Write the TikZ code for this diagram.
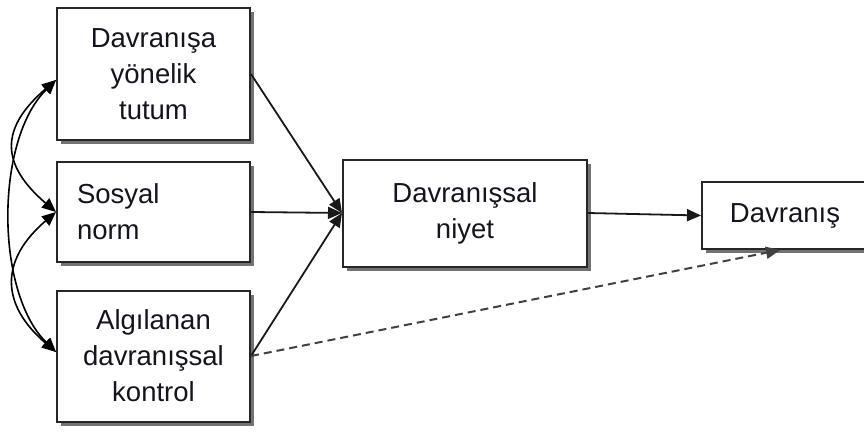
\documentclass[tikz,border=0pt]{standalone}
\usepackage{fontspec}
\setmainfont{Liberation Sans}
\usetikzlibrary{arrows.meta,shadows,calc}
\definecolor{boxline}{HTML}{262626}
\definecolor{txt}{HTML}{14141E}
\tikzset{
  box/.style={draw=boxline, line width=2pt, fill=white, rectangle, inner sep=0pt,
    drop shadow={shadow xshift=4pt, shadow yshift=-4pt, fill=black!55, opacity=1},
    font=\fontsize{27.5}{36}\selectfont, text=txt, align=center},
  conn/.style={draw=black!90, line width=1.8pt, -{Triangle[length=14pt,width=12pt]}},
  curv/.style={draw=black, line width=1.6pt, {Triangle[length=14pt,width=12pt]}-{Triangle[length=14pt,width=12pt]}},
  dashconn/.style={draw=black!75, line width=2pt, dash pattern=on 8pt off 5pt, -{Triangle[length=14pt,width=12pt]}}
}
\begin{document}
\begin{tikzpicture}[x=1pt,y=-1pt]
\useasboundingbox (0,0) rectangle (864,433);
\node[box, minimum width=193pt, minimum height=132pt] (b1) at (153.5,74) {Davranışa\\yönelik\\tutum};
\node[box, minimum width=193pt, minimum height=100pt, text width=153pt, align=left] (b2) at (153.5,212) {Sosyal\\norm};
\node[box, minimum width=193pt, minimum height=131pt] (b3) at (153.5,356) {Algılanan\\davranışsal\\kontrol};
\node[box, minimum width=244pt, minimum height=107pt] (b4) at (465,213) {Davranışsal\\niyet};
\node[box, minimum width=180pt, minimum height=67pt, text width=166pt, align=center, xshift=7pt] (b5) at (785,215.5) {\hspace*{-14pt}Davranış};
\coordinate (conv) at ($(b4.west)+(0,0)$);
\coordinate (l1) at ($(b1.west)+(0,6)$);
\coordinate (l2) at ($(b2.west)+(0,0)$);
\coordinate (l3) at ($(b3.west)+(0,-4)$);
\coordinate (dtip) at ($(b5.south)+(-12,0)$);
\draw[conn] (b1.east) -- (conv);
\draw[conn] (b2.east) -- (conv);
\draw[conn] (b3.east) -- (conv);
\draw[conn] (b4.east) -- (b5.west);
\draw[dashconn] (b3.east) -- (dtip);
\draw[curv] (l1) .. controls (0,128) and (0,164) .. (l2);
\draw[curv] (l2) .. controls (0,260) and (0,304) .. (l3);
\draw[curv] (l1) .. controls (-5,140) and (-5,292) .. (l3);
\end{tikzpicture}
\end{document}
